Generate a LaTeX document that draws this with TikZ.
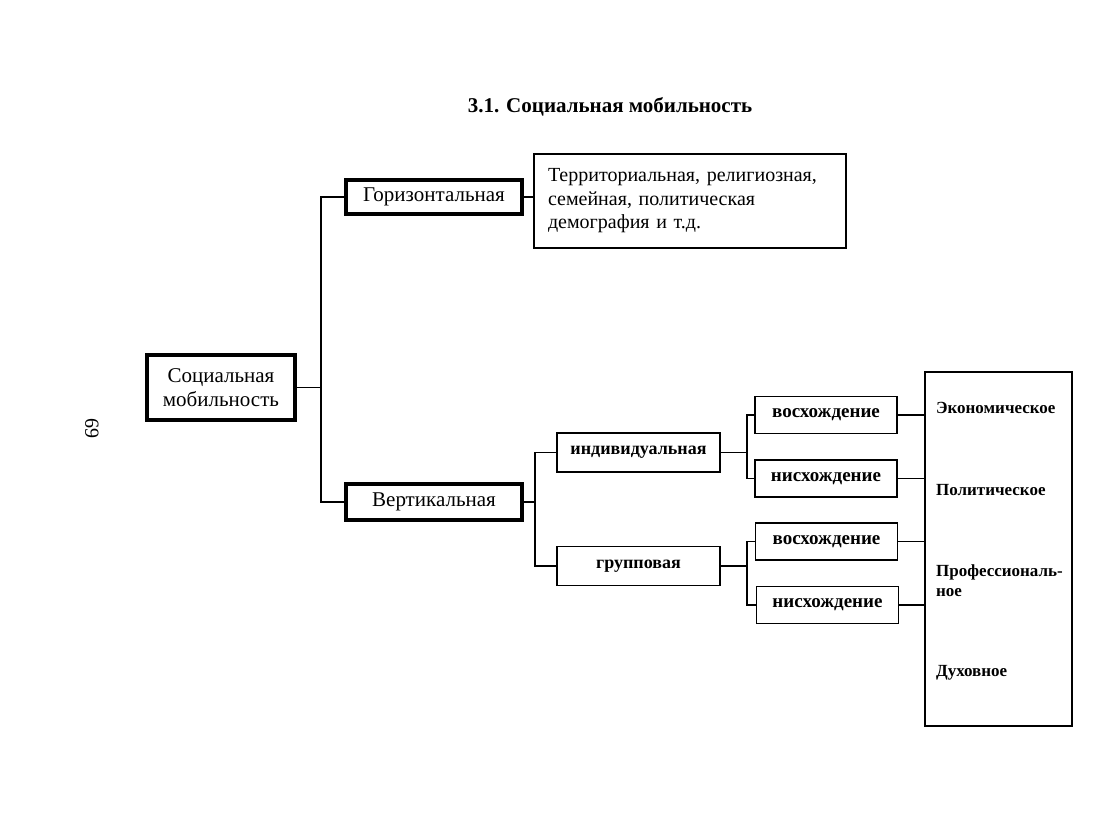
\documentclass[tikz,border=0pt]{standalone}
\usepackage{fontspec}
\setmainfont{Liberation Serif}
\usetikzlibrary{positioning}

\begin{document}
\begin{tikzpicture}[
    x=0.5pt, y=-0.5pt,
    main_box/.style={draw, line width=1.6pt, align=center, inner sep=2pt, font=\fontsize{10.5}{12}\selectfont},
    thin_box/.style={draw, line width=0.6pt, inner sep=2pt},
    type_box/.style={thin_box, minimum width=81.5pt, minimum height=19.5pt, font=\bfseries\fontsize{9}{11}\selectfont},
    dir_box/.style={thin_box, minimum width=71pt, minimum height=18.5pt, font=\bfseries\fontsize{9.5}{11}\selectfont},
    sphere_label/.style={anchor=west, align=left, font=\bfseries\fontsize{8.5}{10}\selectfont},
    link/.style={line width=0.6pt}
]
    \useasboundingbox (0,0) rectangle (1103,829);
    \node[font=\bfseries\fontsize{10.5}{12}\selectfont] (title) at (610,107) {3.1. Социальная мобильность};
    \node[rotate=-90, font=\fontsize{10}{12}\selectfont] (page) at (92,428) {69};
    % Блоки
    \node[main_box, minimum width=74pt, minimum height=32.5pt] (root) at (221,387.5) {Социальная\\мобильность};
    \node[main_box, minimum width=88pt, minimum height=17pt] (horiz) at (434,197) {Горизонтальная};
    \node[main_box, minimum width=88pt, minimum height=18pt] (vert) at (434,502) {Вертикальная};
    \node[thin_box, minimum width=156pt, minimum height=47pt, text width=142pt, inner sep=7pt,
          align=left, font=\fontsize{10}{11.75}\selectfont] (terr) at (690,201)
        {Территориальная, религиозная,\\семейная, политическая\\демография и т.д.};
    \node[type_box] (indiv) at (638.5,452.5) {индивидуальная};
    \node[type_box] (group) at (638.5,566) {групповая};
    \node[dir_box] (up1) at (826,415) {восхождение};
    \node[dir_box] (down1) at (826,478.5) {нисхождение};
    \node[dir_box] (up2) at (826.5,541.5) {восхождение};
    \node[dir_box] (down2) at (827.5,605) {нисхождение};
    \node[thin_box, minimum width=73.5pt, minimum height=177pt] (spheres) at (998.5,549) {};
    \node[sphere_label] (econ) at (929,408) {Экономическое};
    \node[sphere_label] (polit) at (929,490) {Политическое};
    \node[sphere_label] (prof) at (929,581) {Профессиональ-\\ное};
    \node[sphere_label] (spirit) at (929,673) {Духовное};
    % Шины
    \coordinate (bus1) at (321,0);
    \coordinate (bus2) at (535,0);
    \coordinate (bus3) at (747,0);
    % Связи
    \draw[link] (root.east) -- (root.east -| bus1);
    \draw[link] (horiz.west) -- (horiz.west -| bus1) |- (vert.west);
    \draw[link] (horiz.east) -- (horiz.east -| terr.west);
    \draw[link] (vert.east) -- (vert.east -| bus2);
    \draw[link] (indiv.west) -- (indiv.west -| bus2) |- (group.west);
    \draw[link] (indiv.east) -- (indiv.east -| bus3);
    \draw[link] (up1.west) -- (up1.west -| bus3) |- (down1.west);
    \draw[link] (group.east) -- (group.east -| bus3);
    \draw[link] (up2.west) -- (up2.west -| bus3) |- (down2.west);
    \draw[link] (up1.east) -- (up1.east -| spheres.west);
    \draw[link] (down1.east) -- (down1.east -| spheres.west);
    \draw[link] (up2.east) -- (up2.east -| spheres.west);
    \draw[link] (down2.east) -- (down2.east -| spheres.west);
\end{tikzpicture}
\end{document}
